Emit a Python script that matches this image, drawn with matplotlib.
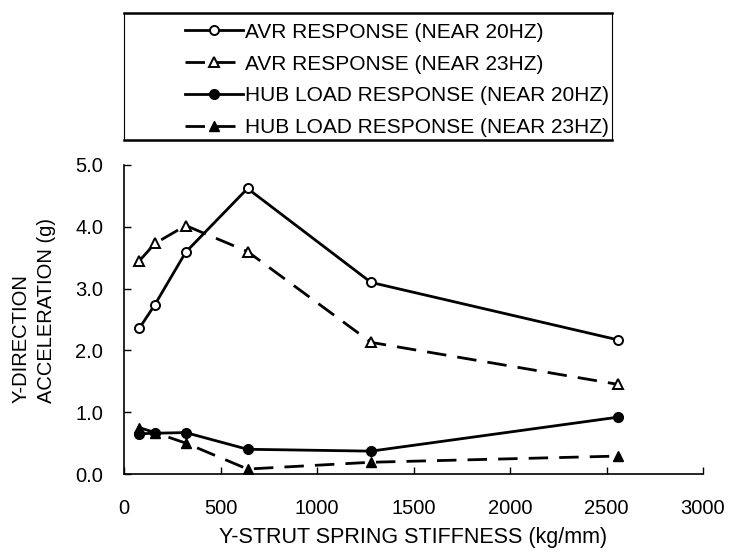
import matplotlib
matplotlib.use("Agg")
import matplotlib.pyplot as plt
from matplotlib.lines import Line2D

plt.rcParams['font.family'] = ['Liberation Sans', 'DejaVu Sans']

stiffness = [80, 160, 320, 640, 1280, 2560]
avr_20 = [2.36, 2.74, 3.59, 4.62, 3.10, 2.17]
avr_23 = [3.45, 3.73, 4.02, 3.60, 2.13, 1.45]
hub_20 = [0.65, 0.66, 0.67, 0.40, 0.37, 0.92]
hub_23 = [0.75, 0.67, 0.50, 0.08, 0.19, 0.29]
labels = ["AVR RESPONSE (NEAR 20HZ)", "AVR RESPONSE (NEAR 23HZ)",
          "HUB LOAD RESPONSE (NEAR 20HZ)", "HUB LOAD RESPONSE (NEAR 23HZ)"]
xticks = [0, 500, 1000, 1500, 2000, 2500, 3000]
yticks = [0.0, 1.0, 2.0, 3.0, 4.0, 5.0]

W, H = 730, 554
fig = plt.figure(figsize=(W / 100, H / 100), dpi=100)
ax = fig.add_axes([124 / W, (H - 474) / H, (703 - 124) / W, (474 - 165) / H])

dash = (0, (7, 4))
ax.plot(stiffness, avr_20, '-', color='black', lw=2, marker='o', ms=6.5,
        mfc='white', mec='black', mew=1.4, label=labels[0])
ax.plot(stiffness, avr_23, linestyle=dash, color='black', lw=2, marker='^', ms=6.5,
        mfc='white', mec='black', mew=1.4, label=labels[1])
ax.plot(stiffness, hub_20, '-', color='black', lw=2, marker='o', ms=7,
        mfc='black', mec='black', label=labels[2])
ax.plot(stiffness, hub_23, linestyle=dash, color='black', lw=2, marker='^', ms=7,
        mfc='black', mec='black', label=labels[3])

ax.set_xlim(0, 3000)
ax.set_ylim(0, 5)
ax.set_xticks(xticks)
ax.set_xticklabels([str(v) for v in xticks])
ax.set_yticks(yticks)
ax.set_yticklabels([f"{v:.1f}" for v in yticks])
ax.tick_params(direction='in', length=5, width=1, labelsize=14.5, colors='black')
ax.tick_params(axis='x', pad=18)
ax.tick_params(axis='y', pad=15)
for s in ['top', 'right']:
    ax.spines[s].set_visible(False)
for s in ['left', 'bottom']:
    ax.spines[s].set_linewidth(1.2)

fig.text(413 / W, 1 - 537 / H, "Y-STRUT SPRING STIFFNESS (kg/mm)", ha='center', va='center', fontsize=15.5)
fig.text(21 / W, 1 - 403 / H, "Y-DIRECTION", ha='center', va='bottom',
         rotation=90, fontsize=14.5)
fig.text(47 / W, 1 - 403 / H, "ACCELERATION (g)", ha='center', va='bottom',
         rotation=90, fontsize=14.5)

# legend box
x0, x1, y0, y1 = 124 / W, 612 / W, 1 - 13 / H, 1 - 140 / H
fig.add_artist(Line2D([x0, x1], [y0, y0], color='black', lw=1.8, transform=fig.transFigure))
fig.add_artist(Line2D([x0, x1], [y1, y1], color='black', lw=1.8, transform=fig.transFigure))
fig.add_artist(Line2D([x0, x0], [y0, y1], color='black', lw=0.8, transform=fig.transFigure))
fig.add_artist(Line2D([x1, x1], [y0, y1], color='black', lw=0.8, transform=fig.transFigure))

handles, labs = ax.get_legend_handles_labels()
fig.legend(handles, labs, loc='center left', bbox_to_anchor=(185 / W, 1 - 80 / H),
           frameon=False, fontsize=15, handlelength=2.8, handletextpad=0.1,
           labelspacing=0.62, borderpad=0, borderaxespad=0)

fig.savefig("out.png", dpi=100)
